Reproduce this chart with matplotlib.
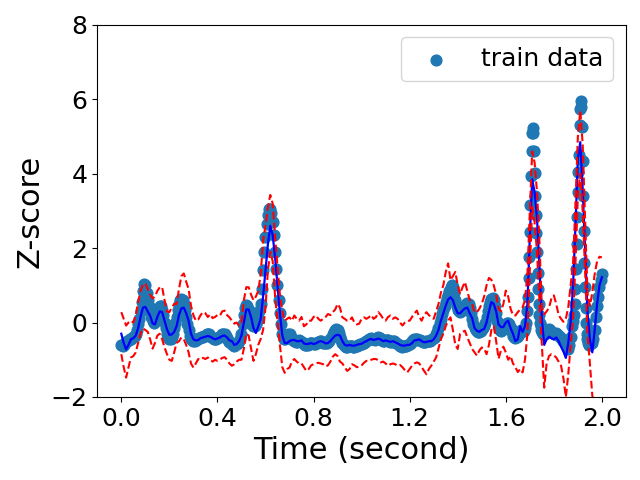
import numpy as np
import matplotlib
matplotlib.use('Agg')
import matplotlib.pyplot as plt

# train data, stored in pieces: (start time, time step, z values)
train_a = [-0.60,-0.62,-0.60,-0.55,-0.52,-0.50,-0.48,-0.45,-0.45,-0.42,
           -0.40,-0.35,-0.30,-0.20,-0.05,0.10,0.30,0.55,0.85,1.05,
           1.00,0.80,0.60,0.45,0.30,0.15,0.05,0.00,0.05,0.15,
           0.30,0.40,0.45,0.45,0.35,0.20,0.00,-0.15,-0.30,-0.40,
           -0.45,-0.45,-0.40,-0.30,-0.15,0.00,0.15,0.35,0.50,0.60,
           0.62,0.60,0.50,0.35,0.15,-0.05,-0.20,-0.35,-0.45,-0.48,
           -0.50,-0.50,-0.48,-0.45,-0.45,-0.42,-0.40,-0.38,-0.38,-0.36,
           -0.35,-0.32,-0.30,-0.32,-0.35,-0.38,-0.42,-0.45,-0.45,-0.43,
           -0.42,-0.40,-0.38,-0.35,-0.32,-0.30,-0.32,-0.36,-0.42,-0.48,
           -0.52,-0.55,-0.58,-0.60,-0.62,-0.60,-0.58,-0.55,-0.50,-0.45,
           -0.30,-0.05,0.20,0.40,0.48,0.45,0.35,0.20,0.05,-0.05,
           -0.10,-0.10,-0.05,0.05,0.15,0.30,0.50,0.90,1.40,1.90,
           2.30,2.65,2.90,3.05,3.05,2.95,2.70,2.35,1.90,1.45,
           1.00,0.60,0.25,-0.05,-0.30,-0.45,-0.45,-0.40,-0.35,-0.32,
           -0.32,-0.38,-0.45,-0.48,-0.50,-0.52,-0.52,-0.50,-0.48,-0.50,
           -0.52,-0.55,-0.58,-0.60,-0.60,-0.60,-0.58,-0.55,-0.55,-0.56,
           -0.58,-0.58,-0.56,-0.54,-0.52,-0.50,-0.50,-0.52,-0.55,-0.56,
           -0.56,-0.54,-0.52,-0.50,-0.45,-0.40,-0.32,-0.25,-0.20,-0.18,
           -0.20,-0.28,-0.38,-0.48,-0.55,-0.60,-0.63,-0.65,-0.65,-0.64,
           -0.63,-0.63,-0.64,-0.65,-0.65,-0.64,-0.62,-0.60,-0.60,-0.58,
           -0.58,-0.56,-0.55,-0.52,-0.50,-0.48,-0.45,-0.43,-0.42,-0.43,
           -0.45,-0.46,-0.44,-0.42,-0.40,-0.42,-0.45,-0.48,-0.50,-0.50,
           -0.48,-0.47,-0.48,-0.50,-0.52,-0.52,-0.50,-0.50,-0.52,-0.55,
           -0.57,-0.60,-0.62,-0.64,-0.65,-0.64,-0.62,-0.62,-0.60,-0.60,
           -0.58,-0.55,-0.50,-0.47,-0.45,-0.44,-0.45,-0.46,-0.47,-0.48,
           -0.50,-0.52,-0.53,-0.52,-0.50,-0.50,-0.50,-0.50,-0.48,-0.45,
           -0.42,-0.38,-0.32,-0.25,-0.15,-0.02,0.10,0.22,0.35,0.45,
           0.55,0.65,0.75,0.85,0.95,1.00,0.95,0.80,0.60,0.45,
           0.35,0.30,0.28,0.30,0.35,0.40,0.45,0.50,0.52,0.50,
           0.40,0.25,0.10,-0.05,-0.15,-0.20,-0.22,-0.25,-0.25,-0.22,
           -0.18,-0.15,-0.10,0.00,0.15,0.30,0.45,0.55,0.62,0.65,
           0.60,0.45,0.25,0.05,-0.10,-0.20,-0.22,-0.20,-0.15,-0.10,
           -0.05,0.00,0.00,-0.05,-0.15,-0.25,-0.35,-0.40,-0.42,-0.40,
           -0.35,-0.30,-0.25,-0.20,-0.20,-0.22,-0.15,0.00]
train_b = [0.30,0.68,1.19,1.76,2.44,3.16,3.93,4.60,5.10,5.23,5.10,4.60,
           4.02,3.39,2.90,2.40,1.90,1.32,0.90,0.50,0.20,0.00,-0.10,-0.20]
train_c = [-0.25,-0.30,-0.32,-0.30,-0.25,-0.20,-0.18,-0.20,-0.25,-0.28,
           -0.30,-0.30,-0.28,-0.30,-0.35,-0.40,-0.42,-0.45,-0.50,-0.55,
           -0.60,-0.65,-0.70,-0.60,-0.40,-0.10,0.05]
train_d = [0.20,0.50,0.90,1.45,2.10,2.85,3.50,4.05,4.50,5.30,5.75,5.95,
           5.80,5.25,4.35,3.40,2.45,1.60,0.95,0.40,0.00,-0.30,-0.45,-0.55,
           -0.60,-0.60]
train_e = [-0.50,-0.55,-0.55,-0.45,-0.20,0.15,0.45,0.70,0.95,1.15,1.30]
train_pieces = [(0.0, 0.005, train_a), (1.69, 0.0025, train_b),
                (1.75, 0.005, train_c), (1.885, 0.0025, train_d),
                (1.95, 0.005, train_e)]

# prediction, every 10 ms from 0 to 2 s
mean = [-0.30,-0.55,-0.72,-0.60,-0.45,-0.42,-0.35,-0.15,0.15,0.40,
        0.42,0.30,0.18,-0.02,-0.05,0.15,0.30,0.28,0.05,-0.18,
        -0.33,-0.32,-0.25,-0.10,0.20,0.38,0.40,0.25,0.05,-0.30,
        -0.45,-0.48,-0.47,-0.42,-0.40,-0.38,-0.36,-0.38,-0.42,-0.45,
        -0.43,-0.40,-0.36,-0.35,-0.40,-0.48,-0.50,-0.60,-0.58,-0.50,
        -0.35,0.00,0.35,0.35,0.15,-0.15,-0.28,-0.10,0.10,0.70,
        1.40,2.10,2.60,2.35,1.75,1.00,0.25,-0.35,-0.55,-0.55,
        -0.50,-0.47,-0.47,-0.50,-0.50,-0.48,-0.56,-0.58,-0.57,-0.55,
        -0.58,-0.56,-0.52,-0.50,-0.52,-0.56,-0.55,-0.50,-0.42,-0.35,
        -0.33,-0.35,-0.50,-0.60,-0.62,-0.60,-0.62,-0.62,-0.60,-0.58,
        -0.57,-0.53,-0.50,-0.46,-0.44,-0.47,-0.45,-0.43,-0.46,-0.50,
        -0.48,-0.50,-0.52,-0.50,-0.53,-0.56,-0.60,-0.62,-0.62,-0.60,
        -0.60,-0.55,-0.48,-0.47,-0.45,-0.50,-0.53,-0.52,-0.50,-0.50,
        -0.45,-0.35,-0.20,0.05,0.25,0.45,0.62,0.68,0.60,0.40,
        0.25,0.25,0.32,0.38,0.40,0.25,0.12,-0.15,-0.22,-0.25,
        -0.20,-0.17,0.00,0.30,0.55,0.50,0.30,-0.05,-0.12,-0.12,
        0.00,0.05,-0.15,-0.30,-0.50,-0.45,-0.10,-0.25,-0.10,0.50,
        2.30,3.85,3.50,2.80,1.50,0.10,-0.60,-0.45,-0.38,-0.42,
        -0.45,-0.40,-0.50,-0.65,-0.78,-0.95,-0.55,0.00,1.00,2.60,
        4.40,4.85,3.60,2.00,0.30,-0.45,-0.80,-0.20,0.50,1.00,
        1.22]
upper = [0.28,0.10,-0.08,0.00,0.05,0.00,0.20,0.55,0.85,1.02,
         1.05,0.90,0.75,0.65,0.70,0.85,0.95,0.95,0.60,0.30,
         0.28,0.40,0.50,0.50,0.90,1.25,1.32,1.10,0.90,0.45,
         0.20,0.05,0.08,0.20,0.28,0.25,0.15,0.22,0.12,0.15,
         0.20,0.18,0.30,0.32,0.20,0.14,0.05,-0.03,0.00,-0.08,
         0.00,0.60,0.95,0.95,0.75,0.60,0.70,0.85,1.30,2.20,
         2.60,3.10,3.43,3.20,2.30,1.50,0.75,0.30,0.05,0.10,
         0.14,0.05,0.19,0.10,0.05,0.15,-0.10,-0.05,0.05,0.05,
         0.15,0.19,0.10,0.05,0.10,0.15,0.23,0.20,0.28,0.35,
         0.50,0.40,0.14,0.10,0.05,0.05,0.14,0.00,-0.05,-0.03,
         0.10,0.14,0.10,0.14,0.20,0.10,0.15,0.28,0.20,0.10,
         0.05,0.15,0.19,0.10,0.14,0.10,0.00,-0.08,0.00,0.05,
         0.05,0.15,0.25,0.32,0.15,0.05,0.20,0.28,0.20,0.14,
         0.10,0.30,0.50,0.80,1.00,1.35,1.59,1.14,1.25,1.36,
         1.00,0.77,0.95,1.09,0.85,0.60,0.50,0.28,0.28,0.37,
         0.50,0.70,1.00,1.20,1.15,1.00,0.75,0.37,0.30,0.50,
         0.86,0.70,0.37,0.20,0.19,0.28,0.35,0.41,0.60,1.30,
         3.00,4.60,4.30,3.50,2.20,0.40,0.22,0.30,0.40,0.65,
         0.73,0.50,0.20,0.10,0.02,0.10,0.41,1.00,1.60,3.20,
         5.00,5.70,4.80,2.80,0.80,0.45,0.80,1.30,1.65,1.77,
         1.75]
lower = [-0.85,-1.20,-1.48,-1.20,-0.94,-0.90,-0.80,-0.55,-0.30,-0.16,
         -0.20,-0.25,-0.45,-0.70,-0.55,-0.35,-0.30,-0.45,-0.67,-0.85,
         -1.00,-1.03,-0.80,-0.55,-0.50,-0.40,-0.45,-0.60,-0.80,-1.10,
         -1.21,-1.10,-0.98,-1.00,-0.95,-0.98,-0.94,-1.00,-1.05,-1.00,
         -1.03,-1.00,-0.95,-0.93,-1.00,-1.10,-1.16,-1.12,-1.05,-1.00,
         -1.00,-0.70,-0.30,-0.35,-0.70,-1.03,-0.85,-0.60,-0.44,-0.20,
         0.40,1.40,1.90,1.65,0.70,0.05,-0.60,-1.20,-1.35,-1.25,
         -1.21,-1.05,-0.98,-1.05,-1.10,-1.10,-1.20,-1.30,-1.25,-1.15,
         -1.12,-1.10,-1.08,-1.10,-1.12,-1.18,-1.15,-1.05,-0.92,-0.85,
         -0.90,-1.05,-1.10,-1.20,-1.30,-1.25,-1.12,-1.15,-1.20,-1.18,
         -1.15,-1.08,-1.03,-1.03,-1.00,-0.98,-0.98,-1.02,-1.07,-1.05,
         -1.10,-1.16,-1.12,-1.10,-1.12,-1.16,-1.14,-1.20,-1.28,-1.34,
         -1.25,-1.16,-1.10,-1.07,-1.10,-1.20,-1.30,-1.39,-1.25,-1.16,
         -1.05,-0.94,-0.70,-0.45,-0.30,-0.10,0.05,0.14,-0.20,-0.60,
         -0.71,-0.30,-0.25,-0.22,-0.40,-0.55,-0.71,-0.80,-0.89,-0.75,
         -0.67,-0.70,-0.85,-0.60,-0.20,-0.10,-0.50,-0.97,-0.75,-0.65,
         -0.80,-1.00,-0.90,-1.10,-1.20,-1.33,-1.25,-1.34,-1.00,-0.30,
         1.40,3.10,2.70,1.90,0.60,-0.60,-1.75,-1.10,-0.90,-0.85,
         -0.88,-0.94,-1.05,-1.16,-1.50,-2.00,-1.40,-0.60,0.10,1.60,
         3.40,4.00,3.00,1.40,-0.30,-1.10,-1.95,-2.50,-2.80,-2.70,
         -2.50]

train_t, train_z = [], []
for start, step, vals in train_pieces:
    train_t.extend(start + step * np.arange(len(vals)))
    train_z.extend(vals)
t_pred = np.linspace(0, 2, len(mean))

fig = plt.figure(figsize=(6.4, 4.8), dpi=100)
ax = fig.add_subplot(111)
ax.scatter(train_t, train_z, s=60, color='C0', label='train data')
ax.plot(t_pred, mean, color='blue', lw=1.6)
ax.plot(t_pred, upper, 'r--', lw=1.5)
ax.plot(t_pred, lower, 'r--', lw=1.5)
ax.set_ylim(-2, 8)
ax.set_xticks([0.0, 0.4, 0.8, 1.2, 1.6, 2.0])
ax.set_yticks([-2, 0, 2, 4, 6, 8])
ax.tick_params(labelsize=18)
ax.set_xlabel('Time (second)', fontsize=22)
ax.set_ylabel('Z-score', fontsize=22)
ax.legend(loc='upper right', fontsize=18)
fig.subplots_adjust(left=0.152, right=0.978, top=0.948, bottom=0.173)
fig.savefig('out.png')
